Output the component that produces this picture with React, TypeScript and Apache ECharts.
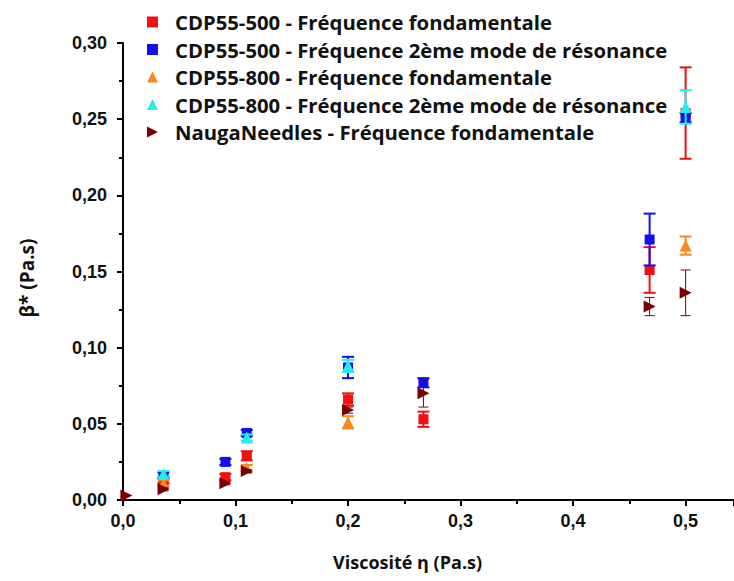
import React, { useEffect, useRef } from "react";
import * as echarts from "echarts";

const seriesNames = [
  "CDP55-500 - Fréquence fondamentale",
  "CDP55-500 - Fréquence 2ème mode de résonance",
  "CDP55-800 - Fréquence fondamentale",
  "CDP55-800 - Fréquence 2ème mode de résonance",
  "NaugaNeedles - Fréquence fondamentale",
];

const red500X = [0.036, 0.091, 0.110, 0.200, 0.267, 0.468, 0.500];
const red500Y = [0.013, 0.015, 0.029, 0.066, 0.053, 0.151, 0.254];
const red500Err = [0.002, 0.002, 0.003, 0.004, 0.005, 0.015, 0.030];

const blue500X = [0.036, 0.091, 0.110, 0.200, 0.267, 0.468, 0.500];
const blue500Y = [0.016, 0.025, 0.044, 0.087, 0.077, 0.171, 0.251];
const blue500Err = [0.002, 0.002, 0.002, 0.007, 0.003, 0.017, 0.003];

const orange800X = [0.036, 0.110, 0.200, 0.500];
const orange800Y = [0.011, 0.021, 0.051, 0.167];
const orange800Err = [0.002, 0.002, 0.004, 0.006];

const cyan800X = [0.036, 0.110, 0.200, 0.500];
const cyan800Y = [0.017, 0.041, 0.088, 0.258];
const cyan800Err = [0.002, 0.002, 0.004, 0.011];

const naugaX = [0.003, 0.036, 0.091, 0.110, 0.200, 0.267, 0.468, 0.500];
const naugaY = [0.003, 0.007, 0.011, 0.019, 0.059, 0.070, 0.127, 0.136];
const naugaErr = [0, 0.001, 0.001, 0.001, 0.002, 0.009, 0.006, 0.015];

const colors = ["#f01010", "#1010f0", "#f7891e", "#22eef0", "#7a0000"];
const symbols = ["rect", "rect", "triangle", "triangle", "triangle"];
const legendIcons = ["rect", "rect", "triangle", "triangle", "path://M0,0 L10,5 L0,10 Z"];
const rotations = [0, 0, 0, 0, -90];
const sizes = [10, 10, 12, 12, 12];
const errWidths = [2, 2, 2, 2, 1];

const xs = [red500X, blue500X, orange800X, cyan800X, naugaX];
const ys = [red500Y, blue500Y, orange800Y, cyan800Y, naugaY];
const errs = [red500Err, blue500Err, orange800Err, cyan800Err, naugaErr];

const LABEL_FONT = "'Liberation Sans', Arial, sans-serif";
const TITLE_FONT = "'Open Sans', 'Noto Sans', sans-serif";

export default function App() {
  const ref = useRef<HTMLDivElement>(null);
  useEffect(() => {
    if (!ref.current) return;
    const chart = echarts.init(ref.current, undefined, { renderer: "svg" });

    const errSeries = seriesNames.map((name, i) => ({
      name: "err" + i,
      type: "custom",
      clip: false,
      z: 2 + i * 2,
      silent: true,
      data: xs[i].map((x, k) => [x, ys[i][k], errs[i][k]]),
      encode: { x: 0, y: 1 },
      renderItem: (params: any, api: any) => {
        const x = api.value(0);
        const y = api.value(1);
        const e = api.value(2);
        if (!e) return { type: "group", children: [] };
        const top = api.coord([x, y + e]);
        const bot = api.coord([x, y - e]);
        const hw = i === 4 ? 5 : 6;
        const style = { stroke: colors[i], lineWidth: errWidths[i] };
        return {
          type: "group",
          children: [
            { type: "line", shape: { x1: top[0], y1: top[1], x2: bot[0], y2: bot[1] }, style },
            { type: "line", shape: { x1: top[0] - hw, y1: top[1], x2: top[0] + hw, y2: top[1] }, style },
            { type: "line", shape: { x1: bot[0] - hw, y1: bot[1], x2: bot[0] + hw, y2: bot[1] }, style },
          ],
        };
      },
    }));

    const scatterSeries = seriesNames.map((name, i) => ({
      name,
      type: "scatter",
      clip: false,
      z: 3 + i * 2,
      symbol: symbols[i],
      symbolSize: sizes[i],
      symbolRotate: rotations[i],
      itemStyle: { color: colors[i], opacity: 1 },
      data: xs[i].map((x, k) => [x, ys[i][k]]),
    }));

    chart.setOption({
      animation: false,
      backgroundColor: "#ffffff",
      grid: { left: 123, top: 43, bottom: 81, right: 0, containLabel: false },
      legend: {
        data: seriesNames.map((n, i) => ({ name: n, icon: legendIcons[i] })),
        orient: "vertical",
        left: 142,
        top: 6,
        itemWidth: 11,
        itemHeight: 11,
        itemGap: 5.5,
        textStyle: {
          fontFamily: TITLE_FONT,
          fontWeight: "bold",
          fontSize: 20.3,
          color: "#111",
          lineHeight: 22,
          padding: [0, 0, 0, 12],
        },
      },
      xAxis: {
        type: "value",
        min: 0,
        max: 0.543,
        interval: 0.1,
        minorTick: { show: true, splitNumber: 2, length: 4, lineStyle: { color: "#000", width: 2 } },
        splitLine: { show: false },
        axisLine: { show: true, onZero: false, lineStyle: { color: "#000", width: 2 } },
        axisTick: { show: true, length: 6, lineStyle: { color: "#000", width: 2 } },
        axisLabel: {
          margin: 12,
          fontFamily: LABEL_FONT,
          fontWeight: "bold",
          fontSize: 18,
          color: "#111",
          showMaxLabel: false,
          formatter: (v: number) =>
            Math.abs(v * 10 - Math.round(v * 10)) < 1e-6 ? v.toFixed(1).replace(".", ",") : "",
        },
      },
      yAxis: {
        type: "value",
        min: 0,
        max: 0.3,
        interval: 0.05,
        minorTick: { show: true, splitNumber: 2, length: 4, lineStyle: { color: "#000", width: 2 } },
        splitLine: { show: false },
        axisLine: { show: true, onZero: false, lineStyle: { color: "#000", width: 2 } },
        axisTick: { show: true, length: 6, lineStyle: { color: "#000", width: 2 } },
        axisLabel: {
          margin: 16,
          fontFamily: LABEL_FONT,
          fontWeight: "bold",
          fontSize: 18,
          color: "#111",
          formatter: (v: number) => v.toFixed(2).replace(".", ","),
        },
      },
      graphic: [
        {
          type: "text",
          left: 333,
          top: 553,
          style: {
            text: "Viscosité η (Pa.s)",
            font: `bold 18px ${TITLE_FONT}`,
            fill: "#111",
          },
        },
        {
          type: "text",
          x: 27,
          y: 278,
          rotation: Math.PI / 2,
          style: {
            text: "β* (Pa.s)",
            font: `bold 19px ${TITLE_FONT}`,
            fill: "#111",
            align: "center",
            verticalAlign: "middle",
          },
        },
      ],
      series: [...errSeries, ...scatterSeries],
    });
    return () => chart.dispose();
  }, []);
  return (
    <div
      ref={ref}
      style={{ position: "fixed", left: 0, top: 0, width: 734, height: 581 }}
    />
  );
}
